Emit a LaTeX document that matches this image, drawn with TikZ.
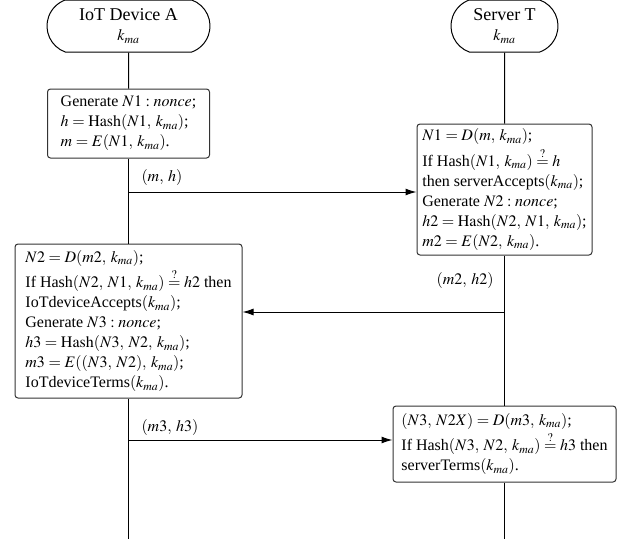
\documentclass[tikz,border=0pt]{standalone}
\usepackage{mathptmx}
\usepackage{fontspec}
\setmainfont{Liberation Serif}
\usetikzlibrary{shapes.misc,arrows.meta}
\thinmuskip=5mu

\begin{document}
\begin{tikzpicture}[x=1pt,y=-1pt,font=\fontsize{16}{20}\selectfont]
                \tikzstyle{party} = [rounded rectangle, rounded rectangle arc length=140, draw=black, line width=1pt, align=center, inner sep=0pt]
                \tikzstyle{stepbox} = [rectangle, rounded corners=3pt, draw=black!80, line width=1pt, align=left, inner sep=0pt]
                \tikzstyle{life} = [line width=1pt]
                \tikzstyle{arrow} = [line width=1pt,-{Latex[length=11pt,width=7pt]}]
                \useasboundingbox (0,0) rectangle (625,539);

                \node (device) [party, minimum width=163pt, minimum height=52pt] at (128.5,26) {{\fontsize{18}{20}\selectfont IoT Device A}\\$k_{ma}$};
                \node (server) [party, minimum width=107pt, minimum height=52pt] at (504.5,26) {{\fontsize{18}{20}\selectfont Server T}\\$k_{ma}$};

                \node (step1) [stepbox, minimum width=162pt, minimum height=69pt] at (128.5,123.5) {Generate $N1:\mathit{nonce}$;\\$h=\mathrm{Hash}(N1,k_{ma})$;\\$m=E(N1,k_{ma})$.};
                \node (step2) [stepbox, minimum width=175pt, minimum height=131pt] at (504.5,189.5) {$N1=D(m,k_{ma})$;\\[2pt]If Hash$(N1,k_{ma})\stackrel{?}{=}h$\\then serverAccepts$(k_{ma})$;\\Generate $N2:\mathit{nonce}$;\\$h2=\mathrm{Hash}(N2,N1,k_{ma})$;\\$m2=E(N2,k_{ma})$.};
                \node (step3) [stepbox, minimum width=227pt, minimum height=154pt] at (128.5,321) {$N2=D(m2,k_{ma})$;\\[2pt]If Hash$(N2,N1,k_{ma})\stackrel{?}{=}h2$ then\\IoTdeviceAccepts$(k_{ma})$;\\Generate $N3:\mathit{nonce}$;\\$h3=\mathrm{Hash}(N3,N2,k_{ma})$;\\$m3=E((N3,N2),k_{ma})$;\\IoTdeviceTerms$(k_{ma})$.};
                \node (step4) [stepbox, minimum width=223pt, minimum height=76pt] at (504.5,444) {$(N3,N2X)=D(m3,k_{ma})$;\\[2pt]If Hash$(N3,N2,k_{ma})\stackrel{?}{=}h3$ then\\serverTerms$(k_{ma})$.};

                \node (msg1) [anchor=west] at (138,177) {$(m,h)$};
                \node (msg2) [anchor=east] at (497,280) {$(m2,h2)$};
                \node (msg3) [anchor=west] at (138,427) {$(m3,h3)$};

                \coordinate (m1) at (128.5,192);
                \coordinate (m2) at (504.5,312);
                \coordinate (m3) at (128.5,440);
                \coordinate (endA) at (128.5,539);
                \coordinate (endT) at (504.5,539);

                \draw [life] (device) -- (step1);
                \draw [life] (step1) -- (step3);
                \draw [life] (step3) -- (endA);
                \draw [life] (server) -- (step2);
                \draw [life] (step2) -- (step4);
                \draw [life] (step4) -- (endT);

                \draw [arrow] (m1) -- (m1 -| step2.west);
                \draw [arrow] (m2) -- (m2 -| step3.east);
                \draw [arrow] (m3) -- (m3 -| step4.west);
            \end{tikzpicture}
\end{document}
